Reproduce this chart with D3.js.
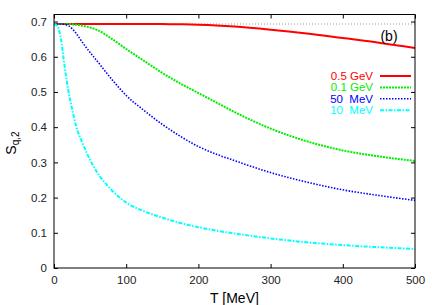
<!DOCTYPE html>
<html>
<head>
<meta charset="utf-8">
<script src="https://cdn.jsdelivr.net/npm/d3@7"></script>
<style>
  body { margin: 0; background: #fff; }
  svg { font-family: "Liberation Sans", Arial, sans-serif; }
  .tick text { font-size: 11.5px; fill: #222; }
</style>
</head>
<body>
<script>
// temperature grid (MeV) and S_q,2
var temps = [0, 5, 10, 15, 20, 25, 30, 40, 50, 60, 80, 100, 125, 150, 175, 200, 225, 250, 300, 350, 400, 450, 500];
var s05GeV = [0.693, 0.693, 0.693, 0.693, 0.693, 0.693, 0.693, 0.693, 0.693, 0.693, 0.693, 0.693, 0.6929, 0.6927, 0.6922, 0.691, 0.689, 0.686, 0.677, 0.666, 0.653, 0.640, 0.625];
var s01GeV = [0.693, 0.693, 0.693, 0.693, 0.693, 0.692, 0.691, 0.688, 0.683, 0.676, 0.651, 0.622, 0.588, 0.554, 0.524, 0.497, 0.470, 0.443, 0.396, 0.360, 0.334, 0.317, 0.304];
var s50MeV = [0.693, 0.693, 0.693, 0.692, 0.688, 0.680, 0.668, 0.639, 0.612, 0.587, 0.536, 0.490, 0.447, 0.408, 0.374, 0.345, 0.323, 0.305, 0.271, 0.244, 0.222, 0.206, 0.192];
var s10MeV = [0.693, 0.686, 0.645, 0.568, 0.502, 0.452, 0.408, 0.352, 0.307, 0.271, 0.221, 0.186, 0.161, 0.143, 0.128, 0.116, 0.106, 0.098, 0.084, 0.073, 0.065, 0.059, 0.054];
var ln2Level = 0.693;

var seriesNames = ["0.5 GeV", "0.1 GeV", "50  MeV", "10  MeV"];
var xTicks = [0, 100, 200, 300, 400, 500];
var xTickLabels = ["0", "100", "200", "300", "400", "500"];
var yTicks = [0, 0.1, 0.2, 0.3, 0.4, 0.5, 0.6, 0.7];
var yTickLabels = ["0", "0.1", "0.2", "0.3", "0.4", "0.5", "0.6", "0.7"];

var svgWidth = 436, svgHeight = 305;
var margin = { top: 14.5, right: 21, bottom: 37, left: 54 };
var width = svgWidth - margin.left - margin.right;
var height = svgHeight - margin.top - margin.bottom;

var svg = d3.select("body").append("svg")
  .attr("width", svgWidth)
  .attr("height", svgHeight);

var g = svg.append("g")
  .attr("transform", "translate(" + margin.left + "," + margin.top + ")");

var x = d3.scaleLinear().domain([0, 500]).range([0, width]);
var y = d3.scaleLinear().domain([0, 0.72]).range([height, 0]);

// axes with inward ticks, mirrored on top/right
g.append("g")
  .attr("transform", "translate(0," + height + ")")
  .call(d3.axisBottom(x).tickValues(xTicks).tickSize(-4).tickPadding(8)
    .tickFormat(function(d, i) { return xTickLabels[i]; }));
g.append("g")
  .call(d3.axisLeft(y).tickValues(yTicks).tickSize(-4).tickPadding(7)
    .tickFormat(function(d, i) { return yTickLabels[i]; }));
g.append("g")
  .call(d3.axisTop(x).tickValues(xTicks).tickSize(-4).tickFormat(""));
g.append("g")
  .attr("transform", "translate(" + width + ",0)")
  .call(d3.axisRight(y).tickValues(yTicks).tickSize(-4).tickFormat(""));

g.selectAll(".domain").remove();
g.selectAll(".tick line").attr("stroke", "#000");

// ln2 reference
g.append("line")
  .attr("x1", x(0)).attr("x2", x(500))
  .attr("y1", y(ln2Level)).attr("y2", y(ln2Level))
  .attr("stroke", "#999").attr("stroke-width", 1)
  .attr("stroke-dasharray", "1,2");

var series = [
  { name: seriesNames[0], values: s05GeV, color: "#ff0000", width: 2, dash: null },
  { name: seriesNames[1], values: s01GeV, color: "#00ee00", width: 2, dash: "2,1" },
  { name: seriesNames[2], values: s50MeV, color: "#0000ff", width: 1.6, dash: "1.5,1.5" },
  { name: seriesNames[3], values: s10MeV, color: "#00ffff", width: 2, dash: "4,1.5,1.5,1.5" }
];

var line = d3.line()
  .x(function(d) { return x(d[0]); })
  .y(function(d) { return y(d[1]); })
  .curve(d3.curveMonotoneX);

g.append("g")
  .selectAll("path")
  .data(series)
  .enter()
  .append("path")
  .attr("d", function(s) { return line(temps.map(function(t, i) { return [t, s.values[i]]; })); })
  .attr("fill", "none")
  .attr("stroke", function(s) { return s.color; })
  .attr("stroke-width", function(s) { return s.width; })
  .attr("stroke-dasharray", function(s) { return s.dash; });

// frame
g.append("rect")
  .attr("width", width).attr("height", height)
  .attr("fill", "none").attr("stroke", "#000").attr("stroke-width", 1);

// legend
var legend = svg.append("g").selectAll("g")
  .data(series)
  .enter()
  .append("g")
  .attr("transform", function(d, i) { return "translate(0," + (76 + i * 11.4) + ")"; });

legend.append("text")
  .attr("x", 373).attr("dy", "0.35em")
  .attr("text-anchor", "end")
  .attr("font-size", "11.5px")
  .style("white-space", "pre")
  .attr("fill", function(d) { return d.color; })
  .text(function(d) { return d.name; });

legend.append("line")
  .attr("x1", 380).attr("x2", 411)
  .attr("stroke", function(d) { return d.color; })
  .attr("stroke-width", function(d) { return d.width; })
  .attr("stroke-dasharray", function(d) { return d.dash; });

// panel label
svg.append("text")
  .attr("x", 389).attr("y", 40.5)
  .attr("text-anchor", "middle")
  .attr("font-size", "14px")
  .text("(b)");

// axis titles
svg.append("text")
  .attr("x", margin.left + width / 2).attr("y", 302.5)
  .attr("text-anchor", "middle")
  .attr("font-size", "14px")
  .text("T [MeV]");

var ylab = svg.append("text")
  .attr("transform", "translate(16,143) rotate(-90)")
  .attr("text-anchor", "middle")
  .attr("font-size", "14px");
ylab.append("tspan").text("S");
ylab.append("tspan").attr("font-size", "10px").attr("dy", "3").text("q,2");
</script>
</body>
</html>
